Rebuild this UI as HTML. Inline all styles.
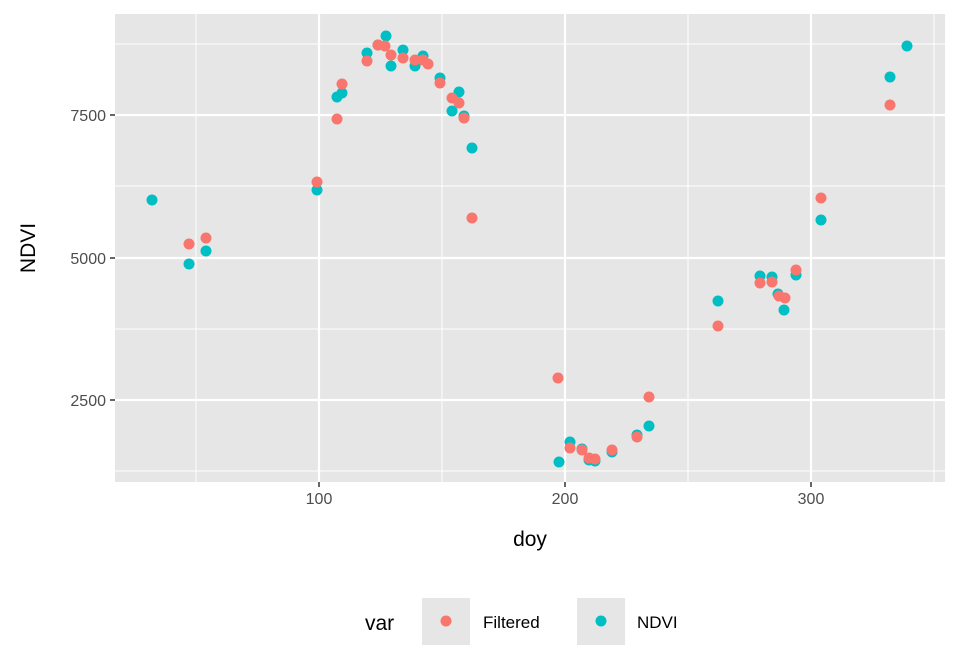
<!DOCTYPE html>
<html><head><meta charset="utf-8"><style>body{margin:0;background:#fff}svg{display:block}</style></head><body>
<svg width="960" height="672" viewBox="0 0 960 672" xmlns="http://www.w3.org/2000/svg" font-family="Liberation Sans, sans-serif">
<rect width="960" height="672" fill="#fff"/>
<rect x="115" y="14" width="830" height="468" fill="#E6E6E6"/>
<g stroke="#fff" stroke-width="1">
<line x1="196" x2="196" y1="14" y2="482"/><line x1="442" x2="442" y1="14" y2="482"/><line x1="688" x2="688" y1="14" y2="482"/><line x1="934" x2="934" y1="14" y2="482"/>
<line x1="115" x2="945" y1="44" y2="44"/><line x1="115" x2="945" y1="186" y2="186"/><line x1="115" x2="945" y1="329" y2="329"/><line x1="115" x2="945" y1="471" y2="471"/>
</g>
<g stroke="#fff" stroke-width="2.2">
<line x1="319" x2="319" y1="14" y2="482"/><line x1="565" x2="565" y1="14" y2="482"/><line x1="811" x2="811" y1="14" y2="482"/>
<line x1="115" x2="945" y1="115" y2="115"/><line x1="115" x2="945" y1="258" y2="258"/><line x1="115" x2="945" y1="400" y2="400"/>
</g>
<g stroke="#333" stroke-width="1.5">
<line x1="319" x2="319" y1="482" y2="487"/><line x1="565" x2="565" y1="482" y2="487"/><line x1="811" x2="811" y1="482" y2="487"/>
<line x1="110" x2="115" y1="115" y2="115"/><line x1="110" x2="115" y1="258" y2="258"/><line x1="110" x2="115" y1="400" y2="400"/>
</g>
<g font-size="16" fill="#4D4D4D">
<text x="319" y="504" text-anchor="middle">100</text><text x="565" y="504" text-anchor="middle">200</text><text x="811" y="504" text-anchor="middle">300</text>
<text x="106" y="121" text-anchor="end">7500</text><text x="106" y="264" text-anchor="end">5000</text><text x="106" y="406" text-anchor="end">2500</text>
</g>
<text x="530" y="546" font-size="21" text-anchor="middle">doy</text>
<text transform="translate(35,248) rotate(-90)" font-size="21" text-anchor="middle">NDVI</text>
<g fill="#00BFC4">
<circle cx="152" cy="200" r="5.5"/><circle cx="189" cy="264" r="5.5"/><circle cx="206" cy="251" r="5.5"/><circle cx="317" cy="190" r="5.5"/><circle cx="337" cy="97" r="5.5"/><circle cx="342" cy="93" r="5.5"/><circle cx="367" cy="53" r="5.5"/><circle cx="386" cy="36" r="5.5"/><circle cx="378" cy="45" r="5.5"/><circle cx="391" cy="66" r="5.5"/><circle cx="403" cy="50" r="5.5"/><circle cx="415" cy="66" r="5.5"/><circle cx="423" cy="56" r="5.5"/><circle cx="440" cy="78" r="5.5"/><circle cx="452" cy="111" r="5.5"/><circle cx="459" cy="92" r="5.5"/><circle cx="464" cy="116" r="5.5"/><circle cx="472" cy="148" r="5.5"/><circle cx="559" cy="462" r="5.5"/><circle cx="570" cy="442" r="5.5"/><circle cx="582" cy="449" r="5.5"/><circle cx="589" cy="460" r="5.5"/><circle cx="595" cy="461" r="5.5"/><circle cx="612" cy="452" r="5.5"/><circle cx="637" cy="435" r="5.5"/><circle cx="649" cy="426" r="5.5"/><circle cx="718" cy="301" r="5.5"/><circle cx="760" cy="276" r="5.5"/><circle cx="772" cy="277" r="5.5"/><circle cx="784" cy="310" r="5.5"/><circle cx="778" cy="294" r="5.5"/><circle cx="796" cy="275" r="5.5"/><circle cx="821" cy="220" r="5.5"/><circle cx="890" cy="77" r="5.5"/><circle cx="907" cy="46" r="5.5"/>
</g>
<g fill="#F8766D">
<circle cx="189" cy="244" r="5.5"/><circle cx="206" cy="238" r="5.5"/><circle cx="317" cy="182" r="5.5"/><circle cx="337" cy="119" r="5.5"/><circle cx="342" cy="84" r="5.5"/><circle cx="367" cy="61" r="5.5"/><circle cx="378" cy="45" r="5.5"/><circle cx="385" cy="46" r="5.5"/><circle cx="391" cy="55" r="5.5"/><circle cx="403" cy="58" r="5.5"/><circle cx="415" cy="60" r="5.5"/><circle cx="423" cy="60" r="5.5"/><circle cx="428" cy="64" r="5.5"/><circle cx="440" cy="83" r="5.5"/><circle cx="452" cy="98" r="5.5"/><circle cx="459" cy="103" r="5.5"/><circle cx="464" cy="118" r="5.5"/><circle cx="472" cy="218" r="5.5"/><circle cx="558" cy="378" r="5.5"/><circle cx="570" cy="448" r="5.5"/><circle cx="582" cy="450" r="5.5"/><circle cx="589" cy="458" r="5.5"/><circle cx="595" cy="459" r="5.5"/><circle cx="612" cy="450" r="5.5"/><circle cx="637" cy="437" r="5.5"/><circle cx="649" cy="397" r="5.5"/><circle cx="718" cy="326" r="5.5"/><circle cx="760" cy="283" r="5.5"/><circle cx="772" cy="282" r="5.5"/><circle cx="779" cy="296" r="5.5"/><circle cx="785" cy="298" r="5.5"/><circle cx="796" cy="270" r="5.5"/><circle cx="821" cy="198" r="5.5"/><circle cx="890" cy="105" r="5.5"/>
</g>
<text x="365" y="630" font-size="21">var</text>
<rect x="422" y="598" width="48" height="47" fill="#E6E6E6"/>
<circle cx="446" cy="621" r="5.5" fill="#F8766D"/>
<text x="483" y="628" font-size="17">Filtered</text>
<rect x="577" y="598" width="48" height="47" fill="#E6E6E6"/>
<circle cx="601" cy="621" r="5.5" fill="#00BFC4"/>
<text x="637" y="628" font-size="17">NDVI</text>
</svg>
</body></html>
